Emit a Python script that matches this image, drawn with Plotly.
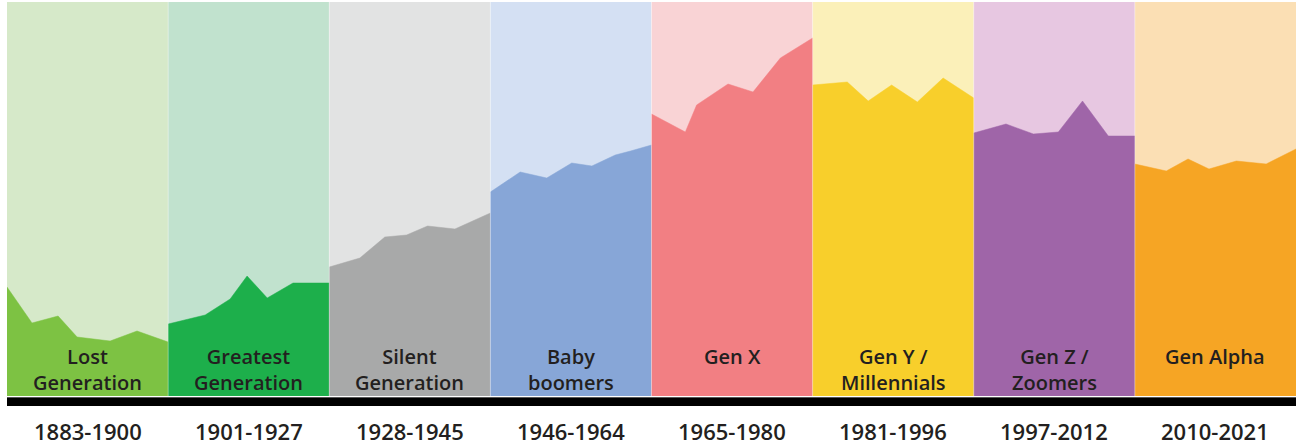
import plotly.graph_objects as go

# generations, in panel order
GENERATIONS = ["Lost<br>Generation", "Greatest<br>Generation", "Silent<br>Generation",
               "Baby<br>boomers", "Gen X", "Gen Y /<br>Millennials", "Gen Z /<br>Zoomers",
               "Gen Alpha"]
YEAR_RANGES = ["1883-1900", "1901-1927", "1928-1945", "1946-1964",
               "1965-1980", "1981-1996", "1997-2012", "2010-2021"]

# position of each point inside its panel (0 = left edge, 1 = right edge)
lost_x = [0, 0.155, 0.317, 0.435, 0.64, 0.807, 1.0]
lost_y = [109, 73, 80, 59, 55, 65, 54]
greatest_x = [0, 0.23, 0.385, 0.49, 0.615, 0.775, 1.0]
greatest_y = [72, 81, 97, 120, 98, 113, 113]
silent_x = [0, 0.19, 0.345, 0.48, 0.61, 0.78, 1.0]
silent_y = [129, 138, 159, 161, 170, 167, 183]
boomers_x = [0, 0.185, 0.35, 0.505, 0.63, 0.775, 0.87, 1.0]
boomers_y = [204, 224, 218, 233, 230, 241, 245, 251]
genx_x = [0, 0.21, 0.28, 0.475, 0.63, 0.80, 0.85, 1.0]
genx_y = [282, 264, 291, 312, 304, 338, 343, 358]
geny_x = [0, 0.215, 0.345, 0.49, 0.65, 0.81, 1.0]
geny_y = [311, 314, 295, 311, 294, 318, 298]
genz_x = [0, 0.2, 0.37, 0.525, 0.675, 0.835, 1.0]
genz_y = [263, 272, 262, 264, 295, 260, 260]
alpha_x = [0, 0.195, 0.33, 0.46, 0.63, 0.815, 1.0]
alpha_y = [232, 225, 237, 227, 235, 232, 247]

SERIES_X = [lost_x, greatest_x, silent_x, boomers_x, genx_x, geny_x, genz_x, alpha_x]
SERIES_Y = [lost_y, greatest_y, silent_y, boomers_y, genx_y, geny_y, genz_y, alpha_y]

BG_COLORS = ["#d6e9c9", "#c1e2ce", "#e2e3e3", "#d4e0f3",
             "#f9d3d5", "#fbf0b9", "#e7c7e1", "#fbdfb4"]
AREA_COLORS = ["#7dc243", "#1daf4b", "#a8a9a9", "#87a6d7",
               "#f27f83", "#f8cf2b", "#9f65a8", "#f6a524"]

TEXT_COLOR = "#231f20"
Y_TOP = 394
FONT = "Open Sans, sans-serif"

fig = go.Figure()
shapes = []
annotations = []

for i, (xs, ys) in enumerate(zip(SERIES_X, SERIES_Y)):
    # light panel background
    shapes.append(dict(type="rect", layer="below", xref="x", yref="y",
                       x0=i, x1=i + 1, y0=0, y1=Y_TOP,
                       fillcolor=BG_COLORS[i], line_width=0))
    fig.add_trace(go.Scatter(
        x=[i + v for v in xs], y=ys,
        mode="lines", fill="tozeroy",
        fillcolor=AREA_COLORS[i],
        line=dict(color=AREA_COLORS[i], width=0.5),
        hoverinfo="skip", showlegend=False
    ))
    annotations.append(dict(
        x=i + 0.5, y=55, xref="x", yref="y",
        xanchor="center", yanchor="top",
        text=GENERATIONS[i], showarrow=False,
        font=dict(family=FONT, size=20, color=TEXT_COLOR, weight=600)
    ))
    annotations.append(dict(
        x=i + 0.5, y=-0.063, xref="x", yref="paper",
        xanchor="center", yanchor="middle",
        text=YEAR_RANGES[i], showarrow=False,
        font=dict(family=FONT, size=22, color=TEXT_COLOR, weight=600)
    ))

# thin separators between panels
for i in range(1, len(GENERATIONS)):
    shapes.append(dict(type="line", layer="above", xref="x", yref="y",
                       x0=i, x1=i, y0=0, y1=Y_TOP,
                       line=dict(color="rgba(255,255,255,0.35)", width=1)))

# black baseline
shapes.append(dict(type="rect", layer="above", xref="x", yref="y",
                   x0=-0.005, x1=8, y0=-10, y1=-2,
                   fillcolor="#000000", line_width=0))
shapes.append(dict(type="circle", layer="above", xref="x", yref="y",
                   x0=-0.03, x1=-0.005, y0=-10, y1=-2,
                   fillcolor="#000000", line_width=0))
shapes.append(dict(type="line", layer="above", xref="x", yref="y",
                   x0=0, x1=8, y0=-1.5, y1=-1.5,
                   line=dict(color="#555555", width=1)))

fig.update_layout(
    width=1296, height=447,
    margin=dict(l=7, r=0, t=2, b=41),
    paper_bgcolor="white",
    plot_bgcolor="white",
    shapes=shapes,
    annotations=annotations,
    xaxis=dict(range=[0, 8], visible=False, fixedrange=True),
    yaxis=dict(range=[-10, Y_TOP], visible=False, fixedrange=True),
)

# drop the default page margin so the figure sits at the window's corner
fig.write_html("out.html", config={"displayModeBar": False},
               post_script="document.body.style.margin='0';")
